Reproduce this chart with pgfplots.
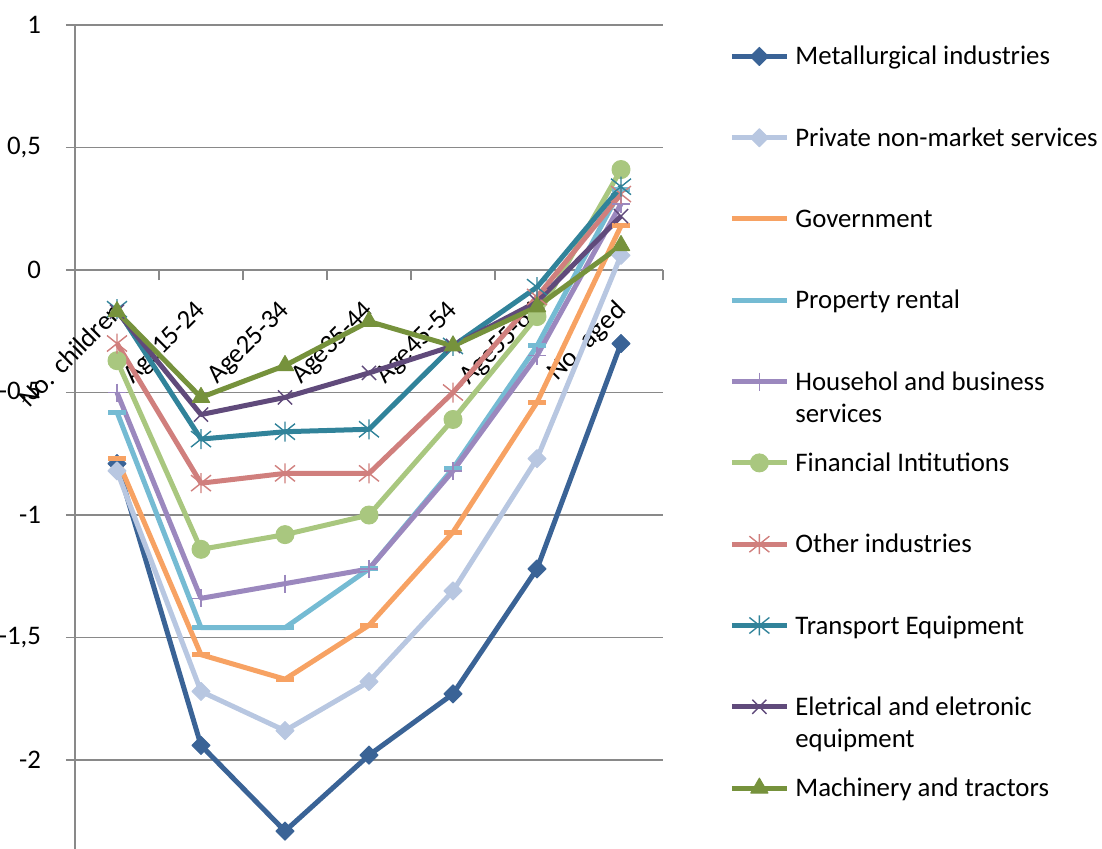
\documentclass[border=0pt]{standalone}
\usepackage{fontspec}
\setmainfont{Carlito}
\usepackage{pgfplots}
\usepackage{pgfplotstable}
\pgfplotsset{compat=1.18}

\definecolor{gridgray}{HTML}{898989}
\definecolor{cMet}{HTML}{3A6396}
\definecolor{cPriv}{HTML}{B8C7E1}
\definecolor{cGov}{HTML}{F7A263}
\definecolor{cProp}{HTML}{75BBD3}
\definecolor{cHH}{HTML}{9B88BE}
\definecolor{cFin}{HTML}{A9C77F}
\definecolor{cOth}{HTML}{D07F7D}
\definecolor{cTrans}{HTML}{31839A}
\definecolor{cElec}{HTML}{604A7B}
\definecolor{cMach}{HTML}{76923C}

% star marker: a cross with a vertical bar
\pgfdeclareplotmark{xstar}{%
  \pgfpathmoveto{\pgfqpoint{0pt}{\pgfplotmarksize}}%
  \pgfpathlineto{\pgfqpoint{0pt}{-\pgfplotmarksize}}%
  \pgfpathmoveto{\pgfqpoint{-\pgfplotmarksize}{-.8\pgfplotmarksize}}%
  \pgfpathlineto{\pgfqpoint{\pgfplotmarksize}{.8\pgfplotmarksize}}%
  \pgfpathmoveto{\pgfqpoint{-\pgfplotmarksize}{.8\pgfplotmarksize}}%
  \pgfpathlineto{\pgfqpoint{\pgfplotmarksize}{-.8\pgfplotmarksize}}%
  \pgfusepathqstroke}

\newcommand\chartfont{\fontsize{13.4}{16}\selectfont}
\newcommand\twolines[2]{\smash{\begin{tabular}[t]{@{}l@{}}#1\\#2\end{tabular}}}

% x: 0 No. children, 1 Age15-24, ..., 6 No. aged
\pgfplotstableread{
x   met    priv   gov    prop   hh     fin    oth    trans  elec   mach
0  -0.79  -0.82  -0.77  -0.58  -0.50  -0.37  -0.30  -0.16  -0.17  -0.17
1  -1.94  -1.72  -1.57  -1.46  -1.34  -1.14  -0.87  -0.69  -0.59  -0.52
2  -2.29  -1.88  -1.67  -1.46  -1.28  -1.08  -0.83  -0.66  -0.52  -0.39
3  -1.98  -1.68  -1.45  -1.22  -1.22  -1.00  -0.83  -0.65  -0.42  -0.21
4  -1.73  -1.31  -1.07  -0.81  -0.82  -0.61  -0.50  -0.31  -0.31  -0.31
5  -1.22  -0.77  -0.54  -0.31  -0.35  -0.19  -0.11  -0.07  -0.13  -0.15
6  -0.30   0.06   0.18   0.33   0.27   0.41   0.31   0.34   0.22   0.10
}\shares

\begin{document}
\begin{tikzpicture}
\begin{axis}[
  scale only axis, width=294pt, height=412pt,
  xmin=-0.5, xmax=6.5, ymin=-2.363, ymax=1,
  clip=false,
  axis x line=middle, axis y line=left,
  axis line style={-, draw=gridgray, line width=0.65pt},
  xtick={0,...,6},
  xticklabels={No. children,Age15-24,Age25-34,Age35-44,Age45-54,Age55-64,No. aged},
  xtick style={draw=none},
  extra x ticks={0.5,1.5,2.5,3.5,4.5,5.5,6.5},
  extra x tick labels={},
  extra x tick style={xtick style={draw=gridgray, line width=0.65pt},
    tick align=outside, major tick length=5pt, grid=none},
  xticklabel style={font=\chartfont, xshift=3pt, yshift=-11.5pt, rotate=45, anchor=east},
  ytick={-2,-1.5,-1,-0.5,0,0.5,1},
  ymajorgrids,
  grid style={gridgray, line width=0.65pt},
  ytick style={draw=gridgray, line width=0.65pt},
  tick align=outside, major tick length=4.5pt,
  /pgf/number format/assume math mode=true,
  /pgf/number format/use comma,
  yticklabel style={font=\chartfont, xshift=-9pt, anchor=east},
  every axis plot/.append style={line width=2.5pt, line join=round},
  legend image code/.code={%
    \draw[mark repeat=2, mark phase=2] plot coordinates {(0pt,0pt) (13.75pt,0pt) (27.5pt,0pt)};},
  legend style={at={(1.1122,1.0117)}, anchor=north west, draw=none, fill=none,
    inner sep=0pt, row sep=0pt, column sep=3pt, font=\chartfont,
    nodes={inner sep=0pt, text height=24.6pt, text depth=16.05pt}},
  legend cell align=left,
]
\addplot[cMet, mark=square*, mark size=3.2pt, mark options={rotate=45, line width=0.5pt}]
  table[x=x, y=met] {\shares};
\addlegendentry{Metallurgical industries}
\addplot[cPriv, mark=square*, mark size=3.2pt, mark options={rotate=45, line width=0.5pt}]
  table[x=x, y=priv] {\shares};
\addlegendentry{Private non-market services}
\addplot[cGov, mark=-, mark size=4.5pt, mark options={line width=2.5pt}]
  table[x=x, y=gov] {\shares};
\addlegendentry{Government}
\addplot[cProp, mark=-, mark size=4.5pt, mark options={line width=2.5pt}]
  table[x=x, y=prop] {\shares};
\addlegendentry{Property rental}
\addplot[cHH, mark=+, mark size=4.5pt, mark options={line width=0.7pt}]
  table[x=x, y=hh] {\shares};
\addlegendentry{\twolines{Househol and business}{services}}
\addplot[cFin, mark=*, mark size=4.5pt, mark options={line width=0.5pt}]
  table[x=x, y=fin] {\shares};
\addlegendentry{Financial Intitutions}
\addplot[cOth, mark=xstar, mark size=5pt, mark options={line width=0.7pt}]
  table[x=x, y=oth] {\shares};
\addlegendentry{Other industries}
\addplot[cTrans, mark=xstar, mark size=5pt, mark options={line width=0.7pt}]
  table[x=x, y=trans] {\shares};
\addlegendentry{Transport Equipment}
\addplot[cElec, mark=x, mark size=5pt, mark options={line width=0.7pt}]
  table[x=x, y=elec] {\shares};
\addlegendentry{\twolines{Eletrical and eletronic}{equipment}}
\addplot[cMach, mark=triangle*, mark size=5pt, mark options={line width=0.5pt}]
  table[x=x, y=mach] {\shares};
\addlegendentry{Machinery and tractors}
\coordinate (bl) at (rel axis cs:0,0);
\coordinate (tr) at (rel axis cs:1,1);
\end{axis}
\pgfresetboundingbox
\path[use as bounding box] ([xshift=-37.5pt]bl) rectangle ([xshift=219.5pt, yshift=12.5pt]tr);
\end{tikzpicture}
\end{document}
